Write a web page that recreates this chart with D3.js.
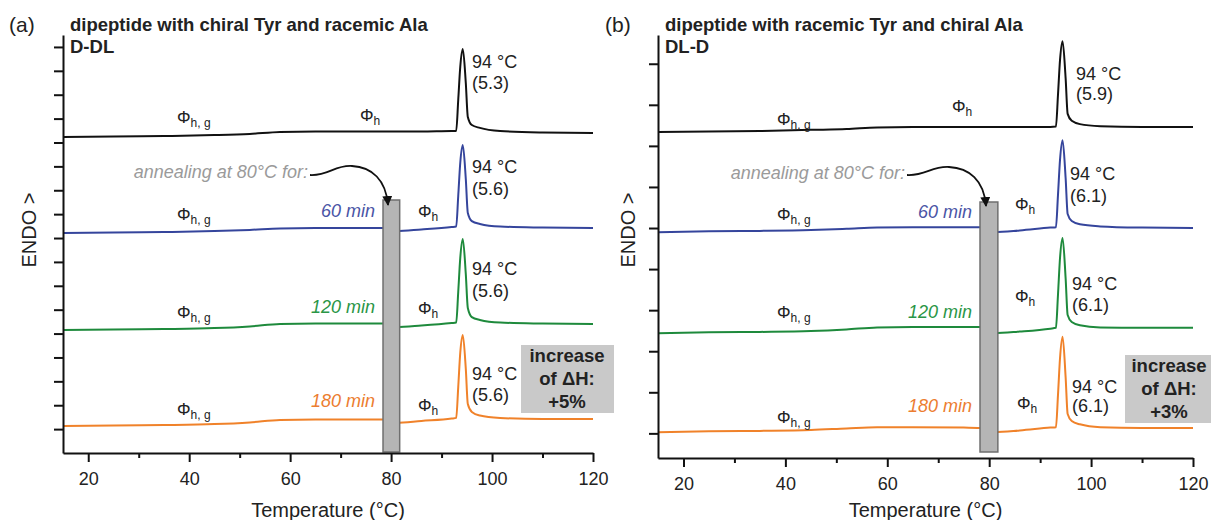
<!DOCTYPE html>
<html>
<head>
<meta charset="utf-8">
<script src="https://cdn.jsdelivr.net/npm/d3@7"></script>
<style>
  body { margin: 0; background: #fff; }
  svg { font-family: 'Liberation Sans', Arial, sans-serif; }
</style>
</head>
<body>
<svg id="chart" width="1211" height="520"></svg>
<script>
// temperature grids (°C)
var tempA = [15, 25, 35, 45, 52, 58, 65, 75, 79, 81, 86, 92, 92.9, 93.3, 93.7, 94.2, 94.8, 95.2, 96, 97.6, 101.6, 110, 120];
var tempB = [15, 25, 35, 45, 52, 58, 65, 75, 79, 81, 86, 92, 93.1, 93.5, 93.9, 94.4, 95.0, 95.4, 96.2, 97.8, 101.8, 110, 120];

// heat flow, stacked curves (arbitrary units, endo up)
var blackA  = [13.23, 13.25, 13.27, 13.31, 13.36, 13.44, 13.46, 13.46, 13.46, 13.46, 13.46, 13.48, 13.48, 14.78, 16.16, 16.91, 15.49, 14.07, 13.73, 13.61, 13.48, 13.42, 13.40];
var blueA   = [9.21, 9.23, 9.25, 9.29, 9.34, 9.40, 9.42, 9.42, 9.42, 9.29, 9.36, 9.46, 9.48, 10.76, 12.14, 12.89, 11.47, 10.05, 9.71, 9.59, 9.48, 9.44, 9.42];
var greenA  = [5.15, 5.17, 5.19, 5.23, 5.30, 5.40, 5.42, 5.42, 5.42, 5.28, 5.34, 5.44, 5.46, 6.74, 8.16, 8.96, 7.49, 6.07, 5.69, 5.57, 5.46, 5.42, 5.40];
var orangeA = [1.13, 1.15, 1.17, 1.21, 1.28, 1.38, 1.40, 1.40, 1.40, 1.26, 1.34, 1.44, 1.47, 2.76, 4.19, 4.94, 3.52, 2.05, 1.72, 1.57, 1.47, 1.42, 1.42];

var blackB  = [7.34, 7.35, 7.36, 7.39, 7.41, 7.45, 7.46, 7.46, 7.46, 7.46, 7.46, 7.46, 7.47, 8.24, 9.09, 9.55, 8.65, 7.78, 7.61, 7.53, 7.48, 7.46, 7.46];
var blueB   = [4.90, 4.92, 4.93, 4.95, 4.98, 5.01, 5.02, 5.02, 5.02, 4.90, 4.94, 5.01, 5.02, 5.80, 6.66, 7.14, 6.22, 5.34, 5.17, 5.09, 5.04, 5.01, 5.00];
var greenB  = [2.44, 2.46, 2.47, 2.49, 2.53, 2.58, 2.59, 2.59, 2.59, 2.44, 2.48, 2.55, 2.57, 3.37, 4.27, 4.76, 3.78, 2.88, 2.71, 2.63, 2.58, 2.57, 2.57];
var orangeB = [0.03, 0.05, 0.06, 0.08, 0.12, 0.15, 0.15, 0.14, 0.13, 0.03, 0.07, 0.14, 0.15, 0.93, 1.83, 2.35, 1.37, 0.47, 0.30, 0.22, 0.15, 0.13, 0.13];

var seriesColors = ['#111111', '#35459c', '#1e8a3c', '#f0822a'];
var labelColors = ['#111111', '#4a55a6', '#2a9646', '#ec7d30'];
var annealTimes = ['60 min', '120 min', '180 min'];
var enthalpyA = ['(5.3)', '(5.6)', '(5.6)', '(5.6)'];
var enthalpyB = ['(5.9)', '(6.1)', '(6.1)', '(6.1)'];
var xTicks = [20, 40, 60, 80, 100, 120];
var xMinorTicks = [30, 50, 70, 90, 110];

var svg = d3.select('#chart');

var defs = svg.append('defs');
defs.append('marker')
  .attr('id', 'arrow')
  .attr('viewBox', '0 0 10 10')
  .attr('refX', 9)
  .attr('refY', 5)
  .attr('markerWidth', 10)
  .attr('markerHeight', 10)
  .attr('markerUnits', 'userSpaceOnUse')
  .attr('orient', 'auto')
  .append('path')
  .attr('d', 'M0,0L10,5L0,10z')
  .attr('fill', '#111');

function phiLabel(g, px, py, sub) {
  var t = g.append('text')
    .attr('x', px)
    .attr('y', py)
    .attr('font-size', 17)
    .attr('fill', '#222');
  t.append('tspan').text('Φ');
  t.append('tspan').attr('font-size', 12).attr('dy', 4).text(sub);
}

function panel(cfg) {
  var x = d3.scaleLinear().domain([15, 120]).range(cfg.xRange);
  var y = d3.scaleLinear().domain(cfg.yDomain).range(cfg.yRange);
  var g = svg.append('g');

  var line = d3.line()
    .x(function (d) { return x(d[0]); })
    .y(function (d) { return y(d[1]); })
    .curve(d3.curveMonotoneX);

  // curves
  cfg.curves.forEach(function (vals, i) {
    g.append('path')
      .datum(d3.zip(cfg.temps, vals))
      .attr('d', line)
      .attr('fill', 'none')
      .attr('stroke', seriesColors[i])
      .attr('stroke-width', 2);
  });

  // annealing bar
  g.append('rect')
    .attr('x', x(cfg.bar[0]))
    .attr('width', x(cfg.bar[1]) - x(cfg.bar[0]))
    .attr('y', cfg.barY[0])
    .attr('height', cfg.barY[1] - cfg.barY[0])
    .attr('fill', '#b5b5b5')
    .attr('stroke', '#6f6f6f')
    .attr('stroke-width', 1.5);

  // axes
  var xAxis = g.append('g')
    .attr('transform', 'translate(0,' + cfg.yRange[0] + ')')
    .call(d3.axisBottom(x).tickValues(xTicks).tickSize(9).tickPadding(10).tickSizeOuter(0));
  xAxis.selectAll('text').attr('font-size', 18).attr('fill', '#222').attr('font-family', null);

  g.append('g')
    .attr('transform', 'translate(0,' + cfg.yRange[0] + ')')
    .call(d3.axisBottom(x).tickValues(xMinorTicks).tickSize(5).tickFormat(''))
    .select('.domain').remove();

  g.append('g')
    .attr('transform', 'translate(' + cfg.xRange[0] + ',0)')
    .call(d3.axisLeft(y).tickValues(cfg.yTicks).tickSize(9).tickFormat('').tickSizeOuter(0));

  g.selectAll('.domain, .tick line')
    .attr('stroke', '#111')
    .attr('stroke-width', 2);

  g.append('text')
    .attr('x', (cfg.xRange[0] + cfg.xRange[1]) / 2)
    .attr('y', 517)
    .attr('text-anchor', 'middle')
    .attr('font-size', 20)
    .attr('fill', '#222')
    .text('Temperature (°C)');

  g.append('text')
    .attr('transform', 'translate(' + cfg.endoX + ',230) rotate(-90)')
    .attr('text-anchor', 'middle')
    .attr('font-size', 20)
    .attr('fill', '#222')
    .text('ENDO >');

  // panel letter and titles
  g.append('text')
    .attr('x', cfg.letterX)
    .attr('y', 32)
    .attr('font-size', 21)
    .attr('fill', '#222')
    .text(cfg.letter);

  g.append('text')
    .attr('x', cfg.xRange[0] + 7)
    .attr('y', 31)
    .attr('font-size', 18.5)
    .attr('font-weight', 'bold')
    .attr('fill', '#222')
    .text(cfg.title);

  g.append('text')
    .attr('x', cfg.xRange[0] + 7)
    .attr('y', 53)
    .attr('font-size', 18.5)
    .attr('font-weight', 'bold')
    .attr('fill', '#222')
    .text(cfg.sample);

  // annealing annotation
  g.append('text')
    .attr('x', cfg.annealText[0])
    .attr('y', cfg.annealText[1])
    .attr('text-anchor', 'end')
    .attr('font-size', 18)
    .attr('font-style', 'italic')
    .attr('fill', '#9a9a9a')
    .text('annealing at 80°C for:');

  g.append('path')
    .attr('d', cfg.arrow)
    .attr('fill', 'none')
    .attr('stroke', '#111')
    .attr('stroke-width', 1.8)
    .attr('marker-end', 'url(#arrow)');

  annealTimes.forEach(function (t, i) {
    g.append('text')
      .attr('x', cfg.timeX)
      .attr('y', cfg.timeY[i])
      .attr('text-anchor', 'end')
      .attr('font-size', 18)
      .attr('font-style', 'italic')
      .attr('fill', labelColors[i + 1])
      .text(t);
  });

  // phase labels
  cfg.phiHG.forEach(function (py) { phiLabel(g, cfg.phiHGX, py, 'h, g'); });
  cfg.phiH.forEach(function (p) { phiLabel(g, p[0], p[1], 'h'); });

  // peak labels
  cfg.peakLab.forEach(function (p, i) {
    g.append('text')
      .attr('x', p[0])
      .attr('y', p[1])
      .attr('font-size', 18)
      .attr('fill', '#222')
      .text('94 °C');
    g.append('text')
      .attr('x', p[0])
      .attr('y', p[2])
      .attr('font-size', 18)
      .attr('fill', '#222')
      .text(cfg.enthalpy[i]);
  });

  // increase box
  var b = cfg.box;
  g.append('rect')
    .attr('x', b[0]).attr('y', b[1])
    .attr('width', b[2]).attr('height', b[3])
    .attr('fill', '#c9c9c9');
  ['increase', 'of ΔH:', cfg.increase].forEach(function (s, i) {
    g.append('text')
      .attr('x', b[4])
      .attr('y', b[1] + 17 + i * 23)
      .attr('text-anchor', 'middle')
      .attr('font-size', 18.5)
      .attr('font-weight', 'bold')
      .attr('fill', '#222')
      .text(s);
  });
}

panel({
  letter: '(a)', letterX: 9,
  title: 'dipeptide with chiral Tyr and racemic Ala', sample: 'D-DL',
  xRange: [63, 593], yRange: [453, 35], yDomain: [0, 17.5], yTicks: d3.range(1, 18),
  temps: tempA, curves: [blackA, blueA, greenA, orangeA],
  bar: [78.4, 81.7], barY: [200, 452],
  endoX: 36,
  annealText: [308, 178],
  arrow: 'M310,175C329,176 334,165 352,166C372,167 386,180 388,205',
  timeX: 375, timeY: [217, 313, 407],
  phiHGX: 177, phiHG: [123, 220, 318, 415],
  phiH: [[360, 121], [418, 217], [418, 314], [418, 411]],
  peakLab: [[472, 68, 89], [472, 173, 195], [472, 275, 297], [472, 380, 401]],
  enthalpy: enthalpyA,
  box: [521, 345, 93, 68, 567], increase: '+5%'
});

panel({
  letter: '(b)', letterX: 605,
  title: 'dipeptide with racemic Tyr and chiral Ala', sample: 'DL-D',
  xRange: [658, 1193], yRange: [458, 35], yDomain: [-0.6, 9.7], yTicks: d3.range(0, 10),
  temps: tempB, curves: [blackB, blueB, greenB, orangeB],
  bar: [78.2, 81.7], barY: [202, 452],
  endoX: 635,
  annealText: [905, 179],
  arrow: 'M907,175C926,176 931,166 949,167C969,168 984,180 986,206',
  timeX: 972, timeY: [218, 318, 412],
  phiHGX: 777, phiHG: [125, 220, 318, 423],
  phiH: [[952, 112], [1015, 210], [1015, 302], [1017, 409]],
  peakLab: [[1076, 80, 100], [1070, 180, 202], [1072, 290, 311], [1072, 393, 412]],
  enthalpy: enthalpyB,
  box: [1125, 355, 95, 68, 1169], increase: '+3%'
});
</script>
</body>
</html>
